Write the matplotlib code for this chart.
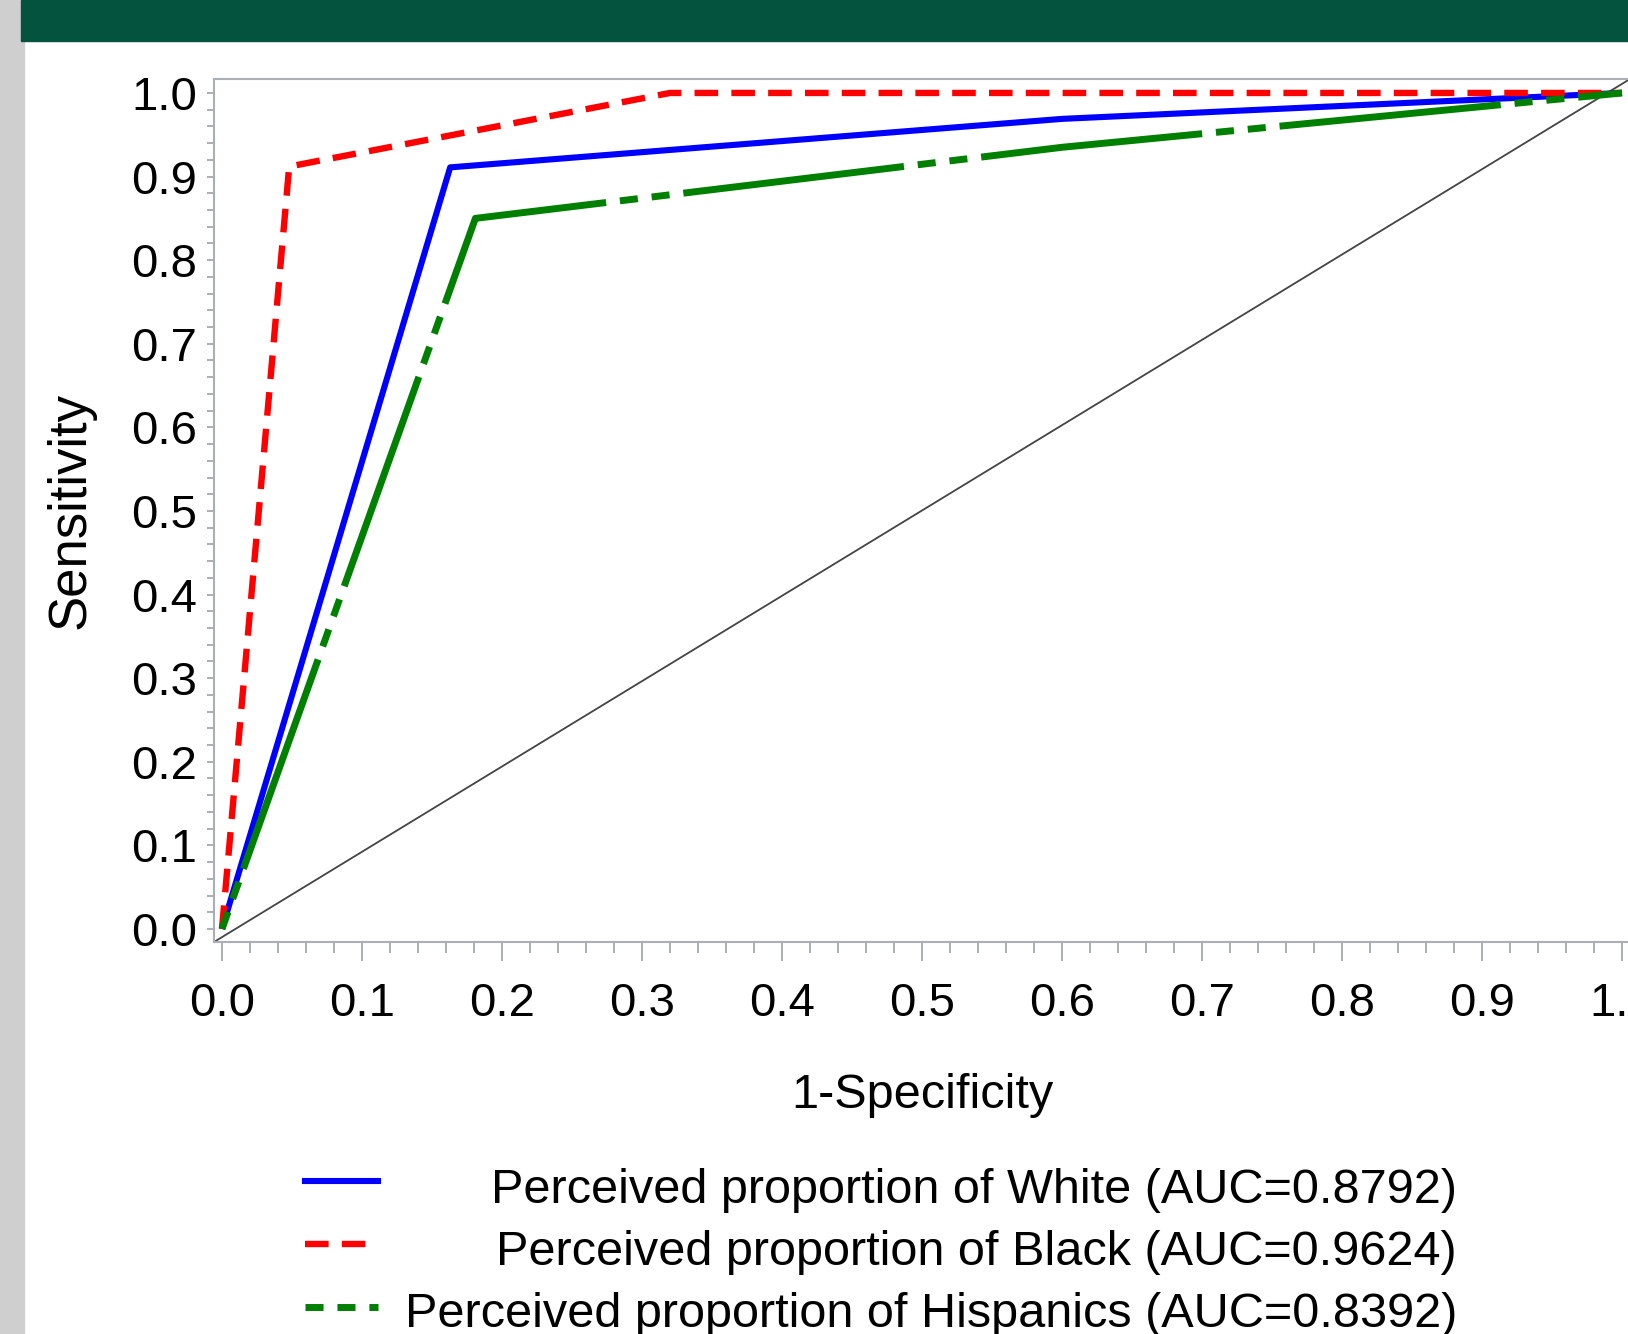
import matplotlib
matplotlib.use('Agg')
import matplotlib.pyplot as plt
from matplotlib.lines import Line2D
from matplotlib.patches import Rectangle
from matplotlib.ticker import MultipleLocator, FormatStrFormatter

plt.rcParams['font.family'] = ['Liberation Sans', 'DejaVu Sans']
plt.rcParams['lines.scale_dashes'] = False

# ROC points (1-specificity, sensitivity)
white_x = [0.0, 0.163, 0.6, 1.0]
white_y = [0.0, 0.911, 0.969, 1.0]
black_x = [0.0, 0.048, 0.32, 1.0]
black_y = [0.0, 0.912, 1.0, 1.0]
hisp_x = [0.0, 0.181, 0.6, 1.0]
hisp_y = [0.0, 0.850, 0.935, 1.0]

labels = ['Perceived proportion of White (AUC=0.8792)',
          'Perceived proportion of Black (AUC=0.9624)',
          'Perceived proportion of Hispanics (AUC=0.8392)']
colors = ['#0000FF', '#FF0000', '#008000']
dashes = [None, (17, 9.5), (13, 10, 13, 10, 160, 10)]
widths = [4.4, 4.6, 5.0]

W, H = 1628, 1334
GRAY = '#A9AFB5'


def fx(px):
    return px / W


def fy(py):
    return 1 - py / H


fig = plt.figure(figsize=(W / 100, H / 100), dpi=100)
fig.patch.set_facecolor('white')

# slide frame: grey strip at left, green header band on top
fig.patches.append(Rectangle((0, 0), fx(24), 1, transform=fig.transFigure,
                             color='#CFCFCF', zorder=0))
fig.patches.append(Rectangle((fx(21), fy(41)), 1, 41 / H, transform=fig.transFigure,
                             color='#04533F', zorder=0))

ax = fig.add_axes([fx(214), fy(942), 1416 / W, 863 / H])

# reference diagonal goes corner to corner of the frame
ax.plot([0, 1], [0, 1], color='#444444', lw=1.3, transform=ax.transAxes, zorder=1)

series = [(white_x, white_y), (black_x, black_y), (hisp_x, hisp_y)]
order = [1, 0, 2]
for i in order:
    xs, ys = series[i]
    line, = ax.plot(xs, ys, color=colors[i], lw=widths[i], zorder=2 + i,
                    solid_capstyle='butt')
    if dashes[i] is not None:
        line.set_dashes(dashes[i])

ax.set_xlim(-0.0057, 1.0057)
ax.set_ylim(-0.0156, 1.0167)

ax.xaxis.set_major_locator(MultipleLocator(0.1))
ax.xaxis.set_minor_locator(MultipleLocator(0.02))
ax.yaxis.set_major_locator(MultipleLocator(0.1))
ax.yaxis.set_minor_locator(MultipleLocator(0.02))
ax.xaxis.set_major_formatter(FormatStrFormatter('%.1f'))
ax.yaxis.set_major_formatter(FormatStrFormatter('%.1f'))

for s in ['left', 'bottom', 'top']:
    ax.spines[s].set_color(GRAY)
    ax.spines[s].set_linewidth(1.5)
ax.spines['right'].set_visible(False)

ax.tick_params(axis='x', which='major', length=14, width=1.4, color=GRAY,
               labelsize=34, pad=15)
ax.tick_params(axis='x', which='minor', length=8, width=1.4, color=GRAY)
ax.tick_params(axis='y', which='both', length=5, width=1.4, color=GRAY,
               labelsize=34, pad=7)

ax.set_xlabel('1-Specificity', fontsize=35, va='center')
ax.xaxis.set_label_coords(0.5, (942 - 1096) / 863)
ax.set_ylabel('Sensitivity', fontsize=38, va='center')
ax.yaxis.set_label_coords((71 - 214) / 1416, 0.5)

# legend drawn by hand: handle on the left, text right aligned
rows = [1181, 1244, 1307]
base = [1203, 1265, 1327]
for i in range(3):
    ln = Line2D([fx(305), fx(378)], [fy(rows[i]), fy(rows[i])],
                transform=fig.transFigure, color=colors[i], lw=widths[i])
    if dashes[i] is not None:
        ln.set_dashes(dashes[i])
    fig.add_artist(ln)
    fig.text(fx(1457), fy(base[i]), labels[i], ha='right', va='baseline',
             fontsize=35)

fig.savefig('out.png', dpi=100)
